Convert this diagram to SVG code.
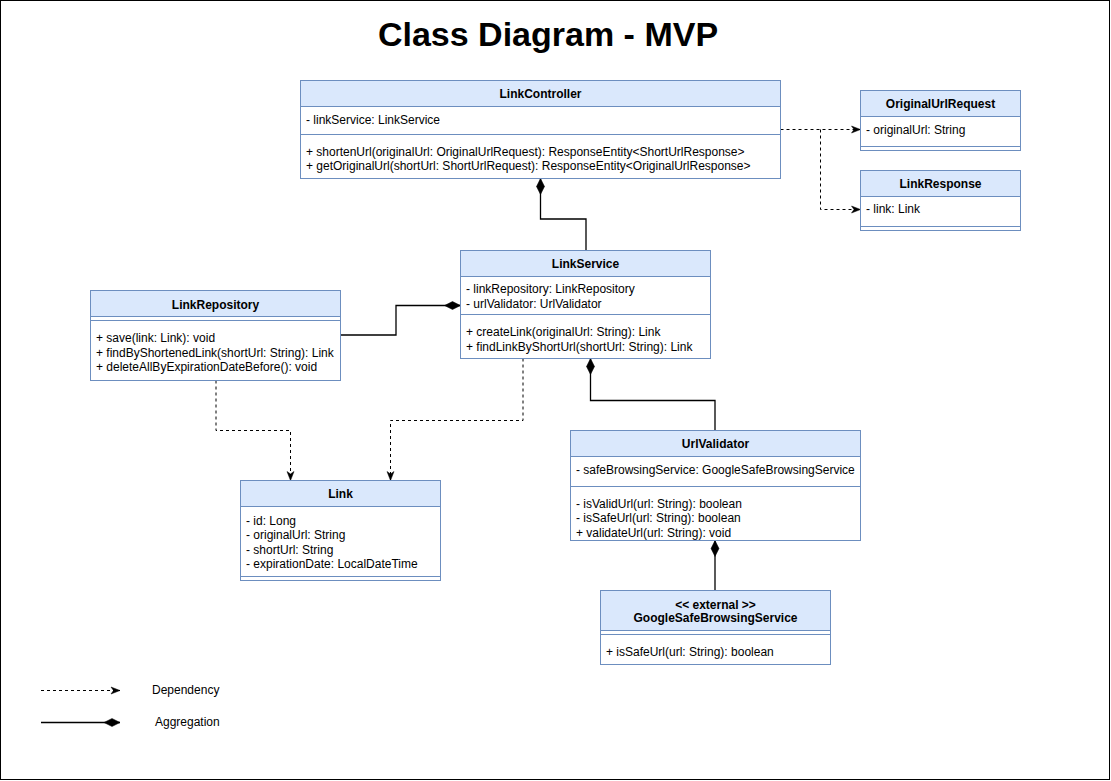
<svg xmlns="http://www.w3.org/2000/svg" width="1111" height="781" viewBox="0 0 1111 781">
<defs>
<style>
.frame{fill:#ffffff;stroke:#000000;stroke-width:1}
.box{fill:#ffffff;stroke:#6c8ebf;stroke-width:1}
.hdr{fill:#dae8fc;stroke:#6c8ebf;stroke-width:1}
.sep{stroke:#6c8ebf;stroke-width:1;fill:none}
.t{font-family:"Liberation Sans",Arial,Helvetica,sans-serif;font-size:12px;fill:#000000}
.b{font-weight:bold;text-anchor:middle}
.title{font-family:"Liberation Sans",Arial,Helvetica,sans-serif;font-size:34px;font-weight:bold;fill:#000000;text-anchor:middle}
.dep{fill:none;stroke:#000000;stroke-width:1;stroke-dasharray:3 3;marker-end:url(#arrow)}
.agg{fill:none;stroke:#000000;stroke-width:1.3;marker-end:url(#diamond)}
</style>
<marker id="arrow" markerUnits="userSpaceOnUse" markerWidth="10" markerHeight="8" refX="9" refY="3.5" orient="auto" overflow="visible">
<path d="M0,0 L9,3.5 L0,7 L2.5,3.5 Z" fill="#000000" stroke="#000000" stroke-width="0.5"/>
</marker>
<marker id="diamond" markerUnits="userSpaceOnUse" markerWidth="17" markerHeight="9" refX="16" refY="4" orient="auto" overflow="visible">
<path d="M0,4 L8,0 L16,4 L8,8 Z" fill="#000000" stroke="#000000" stroke-width="0.5"/>
</marker>
</defs>
<rect class="frame" x="0.5" y="0.5" width="1109" height="779"/>
<text class="title" x="548" y="46">Class Diagram - MVP</text>

<g id="connectors">
<path class="agg" d="M586,250 V219 H540.5 V178.5"/>
<path class="agg" d="M340.5,335 H396 V305.5 H460.5"/>
<path class="agg" d="M715,430.5 V400.5 H590.5 V358.5"/>
<path class="agg" d="M715,590.5 V540.5"/>
<path class="dep" d="M780.5,129.5 H860.5"/>
<path class="dep" d="M820.5,129.5 V209.5 H860.5"/>
<path class="dep" d="M216,380.5 V430.5 H290.5 V480.5"/>
<path class="dep" d="M523,358.5 V420.5 H390.5 V480.5"/>
</g>

<g id="LinkController">
<rect class="box" x="300.5" y="80.5" width="480" height="98"/>
<rect class="hdr" x="300.5" y="80.5" width="480" height="26"/>
<line class="sep" x1="300.5" y1="134.5" x2="780.5" y2="134.5"/>
<text class="t b" x="540.5" y="97.5">LinkController</text>
<text class="t" x="306" y="123.5">- linkService: LinkService</text>
<text class="t" x="306" y="156">+ shortenUrl(originalUrl: OriginalUrlRequest): ResponseEntity&lt;ShortUrlResponse&gt;</text>
<text class="t" x="306" y="170">+ getOriginalUrl(shortUrl: ShortUrlRequest): ResponseEntity&lt;OriginalUrlResponse&gt;</text>
</g>

<g id="OriginalUrlRequest">
<rect class="box" x="860.5" y="90.5" width="160" height="60"/>
<rect class="hdr" x="860.5" y="90.5" width="160" height="26"/>
<line class="sep" x1="860.5" y1="146.5" x2="1020.5" y2="146.5"/>
<text class="t b" x="940.5" y="108">OriginalUrlRequest</text>
<text class="t" x="866" y="134">- originalUrl: String</text>
</g>

<g id="LinkResponse">
<rect class="box" x="860.5" y="170.5" width="160" height="60"/>
<rect class="hdr" x="860.5" y="170.5" width="160" height="26"/>
<line class="sep" x1="860.5" y1="226.5" x2="1020.5" y2="226.5"/>
<text class="t b" x="940.5" y="188">LinkResponse</text>
<text class="t" x="866" y="213">- link: Link</text>
</g>

<g id="LinkService">
<rect class="box" x="460.5" y="250.5" width="250" height="108"/>
<rect class="hdr" x="460.5" y="250.5" width="250" height="26"/>
<line class="sep" x1="460.5" y1="314.5" x2="710.5" y2="314.5"/>
<text class="t b" x="585.5" y="267.5">LinkService</text>
<text class="t" x="466" y="293">- linkRepository: LinkRepository</text>
<text class="t" x="466" y="308">- urlValidator: UrlValidator</text>
<text class="t" x="466" y="336">+ createLink(originalUrl: String): Link</text>
<text class="t" x="466" y="350.5">+ findLinkByShortUrl(shortUrl: String): Link</text>
</g>

<g id="LinkRepository">
<rect class="box" x="90.5" y="290.5" width="250" height="90"/>
<rect class="hdr" x="90.5" y="290.5" width="250" height="26"/>
<line class="sep" x1="90.5" y1="320.5" x2="340.5" y2="320.5"/>
<text class="t b" x="215.5" y="308.5">LinkRepository</text>
<text class="t" x="96" y="342">+ save(link: Link): void</text>
<text class="t" x="96" y="356.5">+ findByShortenedLink(shortUrl: String): Link</text>
<text class="t" x="96" y="371">+ deleteAllByExpirationDateBefore(): void</text>
</g>

<g id="Link">
<rect class="box" x="240.5" y="480.5" width="200" height="100"/>
<rect class="hdr" x="240.5" y="480.5" width="200" height="26"/>
<line class="sep" x1="240.5" y1="576.5" x2="440.5" y2="576.5"/>
<text class="t b" x="340.5" y="498">Link</text>
<text class="t" x="246" y="525">- id: Long</text>
<text class="t" x="246" y="539">- originalUrl: String</text>
<text class="t" x="246" y="554">- shortUrl: String</text>
<text class="t" x="246" y="568">- expirationDate: LocalDateTime</text>
</g>

<g id="UrlValidator">
<rect class="box" x="570.5" y="430.5" width="290" height="110"/>
<rect class="hdr" x="570.5" y="430.5" width="290" height="26"/>
<line class="sep" x1="570.5" y1="486.5" x2="860.5" y2="486.5"/>
<text class="t b" x="715.5" y="447.5">UrlValidator</text>
<text class="t" x="576" y="474">- safeBrowsingService: GoogleSafeBrowsingService</text>
<text class="t" x="576" y="508">- isValidUrl(url: String): boolean</text>
<text class="t" x="576" y="521.5">- isSafeUrl(url: String): boolean</text>
<text class="t" x="576" y="537">+ validateUrl(url: String): void</text>
</g>

<g id="GoogleSafeBrowsingService">
<rect class="box" x="600.5" y="590.5" width="230" height="74"/>
<rect class="hdr" x="600.5" y="590.5" width="230" height="40"/>
<line class="sep" x1="600.5" y1="634.5" x2="830.5" y2="634.5"/>
<text class="t b" x="715.5" y="608.5">&lt;&lt; external &gt;&gt;</text>
<text class="t b" x="715.5" y="621.5">GoogleSafeBrowsingService</text>
<text class="t" x="606" y="656">+ isSafeUrl(url: String): boolean</text>
</g>

<g id="legend">
<path class="dep" d="M41,690.5 H120"/>
<text class="t" x="152" y="694">Dependency</text>
<path class="agg" d="M41,722.5 H120"/>
<text class="t" x="155" y="726">Aggregation</text>
</g>
</svg>
